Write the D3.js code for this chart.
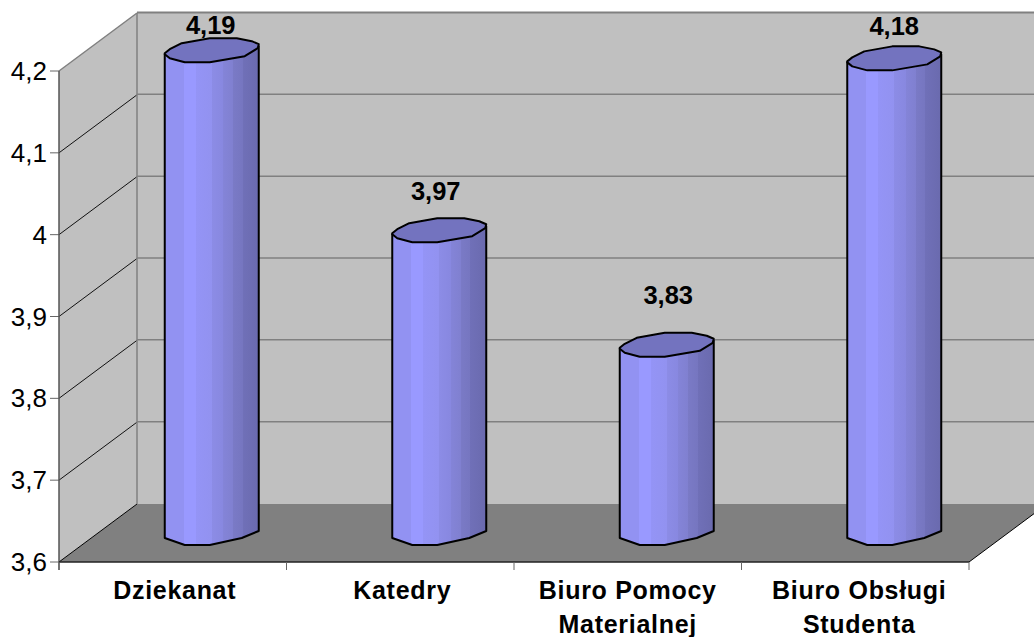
<!DOCTYPE html>
<html><head><meta charset="utf-8">
<script src="https://cdn.jsdelivr.net/npm/d3@7"></script>
<style>html,body{margin:0;background:#fff}svg{display:block}text{font-family:"Liberation Sans",Arial,sans-serif;fill:#000}</style>
</head><body><svg id="c" width="1034" height="637"></svg>
<script>
const categories=["Dziekanat","Katedry","Biuro Pomocy|Materialnej","Biuro Obsługi|Studenta"];
const values=[4.19,3.97,3.83,4.18];
const valueLabels=["4,19","3,97","3,83","4,18"];
const yTicks=[3.6,3.7,3.8,3.9,4.0,4.1,4.2];
const yTickLabels=["3,6","3,7","3,8","3,9","4","4,1","4,2"];
const labelNudge=[[-1,16],[-3.5,30],[1.5,41],[0,23]];
const catNudge=[2,2,0,4];
const rimTop=[[-47,3],[-42,-1],[-30,-7],[-2,-12],[25,-12],[40,-9],[47,-6],[46,-2],[33,6],[-2,12],[-27,12],[-42,8],[-47,4]];
const rimBottom=[[-47,5],[-27,12],[-2,12],[30,5],[47,-2]];
const shade=[["0","#9292F2"],["0.2","#9292F2"],["0.2","#9999FF"],["0.33","#9999FF"],["0.33","#9494F6"],["0.5","#9292F0"],["0.5","#8C8CE6"],["0.62","#8888E0"],["0.62","#8484D8"],["0.73","#8080D0"],["0.73","#7A7AC6"],["0.83","#7676C0"],["0.83","#7070B8"],["1","#6A6AAE"]];

const svg=d3.select("#c");
const x=d3.scaleBand().domain(categories).range([59,969]);
const y=d3.scaleLinear().domain([3.6,4.2]).range([562,71]);
const depth=[78,-58];
const mid=[39,-29];
const X0=59,X1=969,YB=y(3.6),YT=y(4.2);
const line=d3.line();

const g=svg.append("linearGradient").attr("id","cyl");
g.selectAll("stop").data(shade).join("stop").attr("offset",d=>d[0]).attr("stop-color",d=>d[1]);

svg.append("path").attr("d",line([[X0,YB],[X0,YT],[X0+depth[0],YT+depth[1]],[X0+depth[0],YB+depth[1]]])+"Z").attr("fill","#C0C0C0");
svg.append("rect").attr("x",X0+depth[0]).attr("y",YT+depth[1]).attr("width",1034-X0-depth[0]).attr("height",YB-YT).attr("fill","#C0C0C0");
svg.append("path").attr("d",line([[X0,YB],[X1,YB],[X1+depth[0],YB+depth[1]],[X0+depth[0],YB+depth[1]]])+"Z").attr("fill","#808080");

yTicks.forEach((t,i)=>{
  const yy=y(t);
  if(i>0){
    svg.append("line").attr("x1",X0+depth[0]).attr("x2",1034).attr("y1",yy+depth[1]-0.5).attr("y2",yy+depth[1]-0.5).attr("stroke","#808080").attr("stroke-width",i==yTicks.length-1?2:1.5);
  }
  svg.append("line").attr("x1",X0).attr("y1",yy).attr("x2",X0+depth[0]).attr("y2",yy+depth[1]).attr("stroke",(i==0||i==yTicks.length-1)?(i==0?"#000":"#808080"):"#111").attr("stroke-width",i==yTicks.length-1?1.5:1);
  svg.append("line").attr("x1",50).attr("x2",X0).attr("y1",yy).attr("y2",yy).attr("stroke","#666").attr("stroke-width",1);
  svg.append("text").attr("x",47).attr("y",yy+9).attr("text-anchor","end").attr("font-size",26).text(yTickLabels[i]);
});
svg.append("line").attr("x1",X0+depth[0]).attr("x2",X0+depth[0]).attr("y1",YT+depth[1]).attr("y2",YB+depth[1]).attr("stroke","#808080").attr("stroke-width",1.5);
svg.append("line").attr("x1",X0).attr("x2",X0).attr("y1",YT).attr("y2",570).attr("stroke","#555").attr("stroke-width",1.5);
svg.append("line").attr("x1",X0).attr("x2",X1).attr("y1",YB).attr("y2",YB).attr("stroke","#222").attr("stroke-width",1.5);
svg.append("line").attr("x1",X1).attr("y1",YB).attr("x2",X1+depth[0]).attr("y2",YB+depth[1]).attr("stroke","#000").attr("stroke-width",1);
const bottoms=categories.map(c=>x(c)).concat([X1]);
svg.selectAll(".xt").data(bottoms).join("line").attr("x1",d=>d).attr("x2",d=>d).attr("y1",YB).attr("y2",570).attr("stroke","#666");

categories.forEach((c,i)=>{
  const cx=x(c)+x.bandwidth()/2+mid[0];
  const top=y(values[i])+mid[1], bot=YB+mid[1];
  const body=[[cx-47,top+4],...rimBottom.map(p=>[cx+p[0],bot+p[1]]),[cx+47,top-4]];
  svg.append("path").attr("d",line(body)+"Z").attr("fill","url(#cyl)").attr("stroke","#000").attr("stroke-width",2).attr("stroke-linejoin","round");
  svg.append("path").attr("d",line(rimTop.map(p=>[cx+p[0],top+p[1]]))+"Z").attr("fill","#7373BF").attr("stroke","#000").attr("stroke-width",2).attr("stroke-linejoin","round");
  svg.append("text").attr("x",cx+labelNudge[i][0]).attr("y",top-labelNudge[i][1]).attr("text-anchor","middle").attr("font-size",25.5).attr("font-weight","bold").text(valueLabels[i]);
  c.split("|").forEach((l,k)=>{
    svg.append("text").attr("x",x(c)+x.bandwidth()/2+catNudge[i]).attr("y",599+k*33.5).attr("text-anchor","middle").attr("font-size",25).attr("font-weight","bold").attr("letter-spacing",0.7).text(l);
  });
});
</script></body></html>
